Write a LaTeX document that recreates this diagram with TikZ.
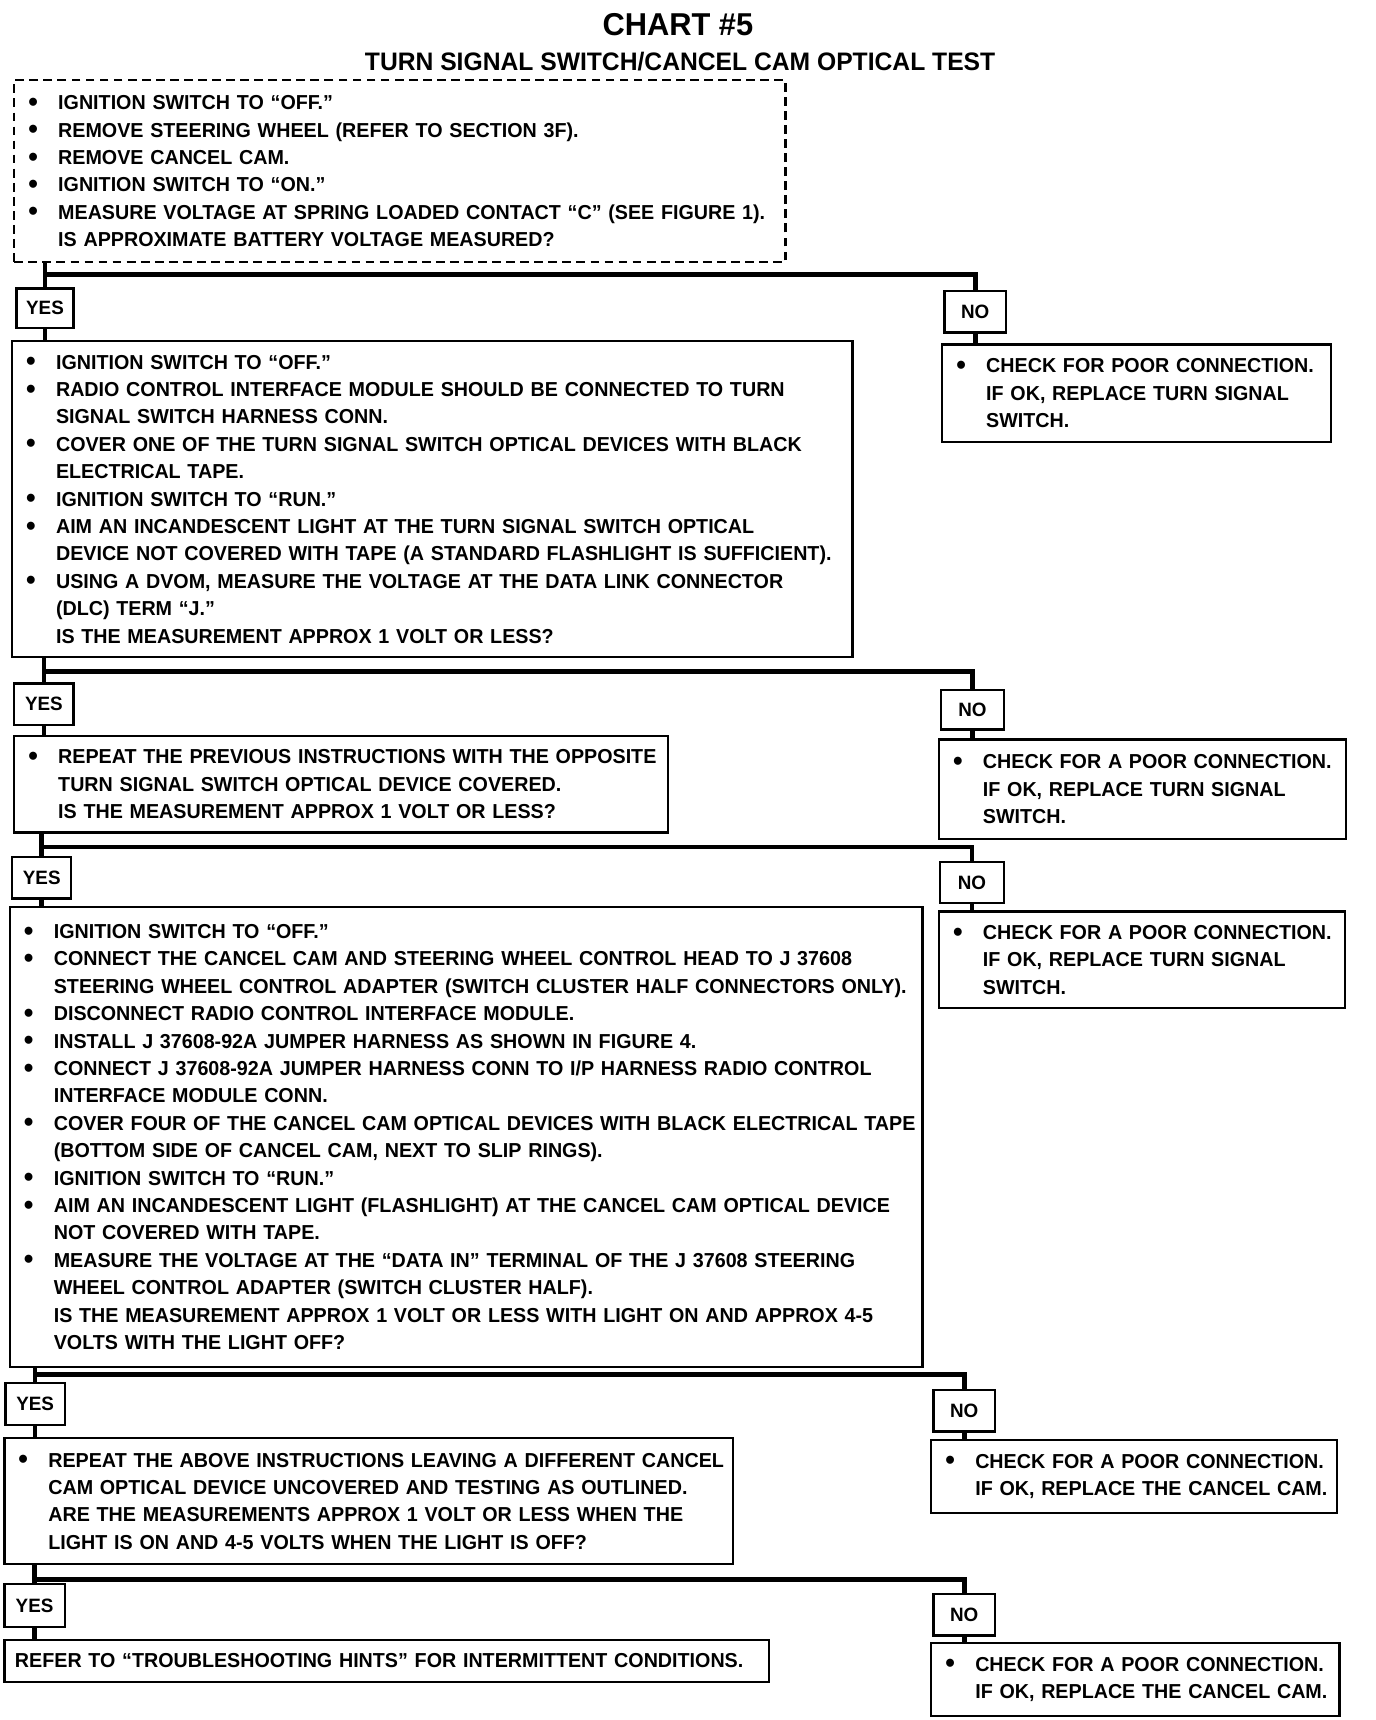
\documentclass[tikz,border=0pt]{standalone}
\usepackage{fontspec}
\setmainfont{Liberation Sans}[FakeStretch=0.975]
\usetikzlibrary{positioning}
% bullet line and indented line
\newcommand{\bl}[1]{\mbox{\makebox[19pt][l]{\hspace{2pt}\raisebox{-0.9pt}{\fontsize{16}{16}\selectfont\textbullet}}#1}}
\newcommand{\nb}[1]{\mbox{\hspace*{19pt}#1}}

\begin{document}
\begin{tikzpicture}[x=0.6244pt, y=-0.6244pt,
          txt/.style={font=\fontsize{11.5}{15.6}\selectfont\bfseries},
          stepbox/.style 2 args={draw, line width=1.3pt, anchor=north west,
                     align=left, inner xsep=6pt, inner ysep=2pt,
                     text width={#1*0.6244pt-12pt},
                     minimum height={#2*0.6244pt}, txt},
          ans/.style 2 args={draw, line width=1.3pt, anchor=north west,
                     inner sep=0pt, minimum width={#1*0.6244pt},
                     minimum height={#2*0.6244pt},
                     font=\fontsize{11}{13}\selectfont\bfseries},
          flow/.style={line width=2.6pt},
      ]
      \useasboundingbox (0,0) rectangle (1254,1568);

      % heading
      \node[font=\fontsize{18}{20}\selectfont\bfseries] (title)
          at (618,22) {CHART \#5};
      \node[font=\fontsize{14.4}{16}\selectfont\bfseries] (subtitle)
          at (620,56) {TURN SIGNAL SWITCH/CANCEL CAM OPTICAL TEST};

      % first check
      \node[stepbox={703}{166}, dash pattern=on 5pt off 3pt] (b1)
          at (12,72) {\bl{IGNITION SWITCH TO “OFF.”}\\
          \bl{REMOVE STEERING WHEEL (REFER TO SECTION 3F).}\\
          \bl{REMOVE CANCEL CAM.}\\
          \bl{IGNITION SWITCH TO “ON.”}\\
          \bl{MEASURE VOLTAGE AT SPRING LOADED CONTACT “C” (SEE FIGURE 1).}\\
          \nb{IS APPROXIMATE BATTERY VOLTAGE MEASURED?}};
      \node[ans={52}{36}] (yes1) at (14,262) {YES};
      \node[ans={56}{38}] (no1) at (860,264) {NO};
      \node[stepbox={766}{288}] (b2)
          at (10,310) {\bl{IGNITION SWITCH TO “OFF.”}\\
          \bl{RADIO CONTROL INTERFACE MODULE SHOULD BE CONNECTED TO TURN}\\
          \nb{SIGNAL SWITCH HARNESS CONN.}\\
          \bl{COVER ONE OF THE TURN SIGNAL SWITCH OPTICAL DEVICES WITH BLACK}\\
          \nb{ELECTRICAL TAPE.}\\
          \bl{IGNITION SWITCH TO “RUN.”}\\
          \bl{AIM AN INCANDESCENT LIGHT AT THE TURN SIGNAL SWITCH OPTICAL}\\
          \nb{DEVICE NOT COVERED WITH TAPE (A STANDARD FLASHLIGHT IS SUFFICIENT).}\\
          \bl{USING A DVOM, MEASURE THE VOLTAGE AT THE DATA LINK CONNECTOR}\\
          \nb{(DLC) TERM “J.”}\\
          \nb{IS THE MEASUREMENT APPROX 1 VOLT OR LESS?}};
      \node[stepbox={354}{89}] (n1)
          at (858,313) {\bl{CHECK FOR POOR CONNECTION.}\\
          \nb{IF OK, REPLACE TURN SIGNAL}\\
          \nb{SWITCH.}};

      % second check
      \node[ans={54}{38}] (yes2) at (12,622) {YES};
      \node[ans={57}{36}] (no2) at (857,628) {NO};
      \node[stepbox={596}{88}] (b3)
          at (12,670) {\bl{REPEAT THE PREVIOUS INSTRUCTIONS WITH THE OPPOSITE}\\
          \nb{TURN SIGNAL SWITCH OPTICAL DEVICE COVERED.}\\
          \nb{IS THE MEASUREMENT APPROX 1 VOLT OR LESS?}};
      \node[stepbox={371}{91}] (n2)
          at (855,673) {\bl{CHECK FOR A POOR CONNECTION.}\\
          \nb{IF OK, REPLACE TURN SIGNAL}\\
          \nb{SWITCH.}};

      % cancel cam check
      \node[ans={54}{38}] (yes3) at (10,780) {YES};
      \node[ans={58}{37}] (no3) at (856,785) {NO};
      \node[stepbox={832}{419}] (b4)
          at (8,826) {\bl{IGNITION SWITCH TO “OFF.”}\\
          \bl{CONNECT THE CANCEL CAM AND STEERING WHEEL CONTROL HEAD TO J 37608}\\
          \nb{STEERING WHEEL CONTROL ADAPTER (SWITCH CLUSTER HALF CONNECTORS ONLY).}\\
          \bl{DISCONNECT RADIO CONTROL INTERFACE MODULE.}\\
          \bl{INSTALL J 37608-92A JUMPER HARNESS AS SHOWN IN FIGURE 4.}\\
          \bl{CONNECT J 37608-92A JUMPER HARNESS CONN TO I/P HARNESS RADIO CONTROL}\\
          \nb{INTERFACE MODULE CONN.}\\
          \bl{COVER FOUR OF THE CANCEL CAM OPTICAL DEVICES WITH BLACK ELECTRICAL TAPE}\\
          \nb{(BOTTOM SIDE OF CANCEL CAM, NEXT TO SLIP RINGS).}\\
          \bl{IGNITION SWITCH TO “RUN.”}\\
          \bl{AIM AN INCANDESCENT LIGHT (FLASHLIGHT) AT THE CANCEL CAM OPTICAL DEVICE}\\
          \nb{NOT COVERED WITH TAPE.}\\
          \bl{MEASURE THE VOLTAGE AT THE “DATA IN” TERMINAL OF THE J 37608 STEERING}\\
          \nb{WHEEL CONTROL ADAPTER (SWITCH CLUSTER HALF).}\\
          \nb{IS THE MEASUREMENT APPROX 1 VOLT OR LESS WITH LIGHT ON AND APPROX 4-5}\\
          \nb{VOLTS WITH THE LIGHT OFF?}};
      \node[stepbox={370}{88}] (n3)
          at (855,830) {\bl{CHECK FOR A POOR CONNECTION.}\\
          \nb{IF OK, REPLACE TURN SIGNAL}\\
          \nb{SWITCH.}};

      % repeat with other device
      \node[ans={54}{38}] (yes4) at (4,1260) {YES};
      \node[ans={56}{38}] (no4) at (850,1266) {NO};
      \node[stepbox={664}{115}] (b5)
          at (3,1310) {\bl{REPEAT THE ABOVE INSTRUCTIONS LEAVING A DIFFERENT CANCEL}\\
          \nb{CAM OPTICAL DEVICE UNCOVERED AND TESTING AS OUTLINED.}\\
          \nb{ARE THE MEASUREMENTS APPROX 1 VOLT OR LESS WHEN THE}\\
          \nb{LIGHT IS ON AND 4-5 VOLTS WHEN THE LIGHT IS OFF?}};
      \node[stepbox={370}{66}] (n4)
          at (848,1312) {\bl{CHECK FOR A POOR CONNECTION.}\\
          \nb{IF OK, REPLACE THE CANCEL CAM.}};

      % result
      \node[ans={55}{39}] (yes5) at (3,1443) {YES};
      \node[ans={56}{38}] (no5) at (850,1452) {NO};
      \node[stepbox={697}{38}] (b6)
          at (3,1494) {\mbox{REFER TO “TROUBLESHOOTING HINTS” FOR INTERMITTENT CONDITIONS.}};
      \node[stepbox={372}{66}] (n5)
          at (848,1497) {\bl{CHECK FOR A POOR CONNECTION.}\\
          \nb{IF OK, REPLACE THE CANCEL CAM.}};

      % branch heights
      \coordinate (j1) at (0,250);
      \coordinate (j2) at (0,612);
      \coordinate (j3) at (0,772);
      \coordinate (j4) at (0,1253);
      \coordinate (j5) at (0,1440);

      % yes / no lines
      \draw[flow] (yes1.north |- b1.south) -- (yes1.north);
      \draw[flow] (yes1.south) -- (yes1.south |- b2.north);
      \draw[flow] (yes1.north |- j1) -| (no1.north);
      \draw[flow] (no1.south) -- (no1.south |- n1.north);

      \draw[flow] (yes2.north |- b2.south) -- (yes2.north);
      \draw[flow] (yes2.south) -- (yes2.south |- b3.north);
      \draw[flow] (yes2.north |- j2) -| (no2.north);
      \draw[flow] (no2.south) -- (no2.south |- n2.north);

      \draw[flow] (yes3.north |- b3.south) -- (yes3.north);
      \draw[flow] (yes3.south) -- (yes3.south |- b4.north);
      \draw[flow] (yes3.north |- j3) -| (no3.north);
      \draw[flow] (no3.south) -- (no3.south |- n3.north);

      \draw[flow] (yes4.north |- b4.south) -- (yes4.north);
      \draw[flow] (yes4.south) -- (yes4.south |- b5.north);
      \draw[flow] (yes4.north |- j4) -| (no4.north);
      \draw[flow] (no4.south) -- (no4.south |- n4.north);

      \draw[flow] (yes5.north |- b5.south) -- (yes5.north);
      \draw[flow] (yes5.south) -- (yes5.south |- b6.north);
      \draw[flow] (yes5.north |- j5) -| (no5.north);
      \draw[flow] (no5.south) -- (no5.south |- n5.north);
      \end{tikzpicture}
\end{document}
